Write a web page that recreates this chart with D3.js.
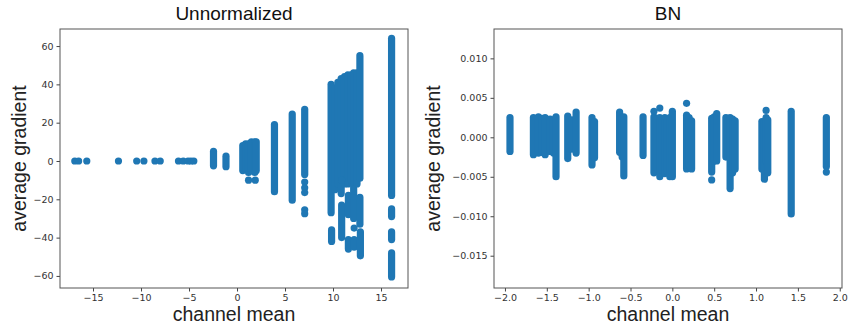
<!DOCTYPE html>
<html><head><meta charset="utf-8">
<script src="https://cdn.jsdelivr.net/npm/d3@7"></script>
<style>body{margin:0;background:#fff}svg{display:block}</style>
</head><body><svg id="c" width="849" height="328"></svg>
<script>
// ---- Data: Unnormalized panel ----
// vertical runs of densely packed points: [channel mean, lowest gradient, highest gradient]
const unnormRuns = [
  [-2.45, -2.5, 5.0], [-1.15, -3.0, 2.5],
  [0.6, -5, 8], [0.9, -4, 9], [1.2, -6, 9], [1.5, -5, 10], [1.85, -6, 10], [2.0, -5, 10],
  [3.9, -16, 19], [5.75, -20.5, 24.5], [7.05, -7, 27],
  [9.8, -27, 40], [9.85, -42, -36], [10.2, -15, 38], [10.5, -12, 41],
  [10.85, -17, 43], [10.9, -40, -23], [11.2, -12, 44],
  [11.55, -12, 45], [11.6, -28, -18], [11.6, -46, -41], [11.9, -10, 45],
  [12.15, -30, 46], [12.2, -45, -41], [12.5, -12, 46],
  [12.8, -9, 55], [12.8, -33, -19], [12.85, -49.5, -37],
  [16.1, -18, 64], [16.1, -29, -25], [16.1, -41, -37], [16.1, -60.5, -48]
];
// isolated points: [channel mean, average gradient]
const unnormPoints = [
  [-16.9, 0], [-16.5, 0], [-15.65, 0], [-12.35, 0], [-10.45, 0], [-9.7, 0],
  [-8.55, 0], [-8.0, 0], [-6.1, 0], [-5.6, 0], [-5.1, 0], [-4.8, 0], [-4.5, 0],
  [1.2, -10], [1.9, -10],
  [7.05, -11], [7.05, -14], [7.05, -16.5], [7.05, -25.5], [7.05, -27.5],
  [10.9, -10], [12.2, -35]
];
const unnormXTicks = [-15, -10, -5, 0, 5, 10, 15];
const unnormYTicks = [-60, -40, -20, 0, 20, 40, 60];

// ---- Data: BN panel ----
const bnRuns = [
  [-1.94, -0.0018, 0.0025],
  [-1.66, -0.0022, 0.0025], [-1.60, -0.0020, 0.0026], [-1.56, -0.0019, 0.0024], [-1.52, -0.0022, 0.0025],
  [-1.46, -0.0018, 0.0023], [-1.42, -0.0020, 0.0022],
  [-1.39, -0.0050, 0.0026],
  [-1.25, -0.0027, 0.0027], [-1.20, -0.0015, 0.0022], [-1.15, -0.0020, 0.0032],
  [-0.96, -0.0035, 0.0025], [-0.93, -0.0026, 0.0020],
  [-0.63, -0.0019, 0.0032], [-0.60, -0.0025, 0.0025], [-0.58, -0.0049, 0.0026],
  [-0.35, -0.0023, 0.0026],
  [-0.22, -0.0045, 0.0026], [-0.18, -0.0040, 0.0024], [-0.15, -0.0050, 0.0025], [-0.12, -0.0042, 0.0022],
  [-0.09, -0.0046, 0.0025], [-0.06, -0.0044, 0.0022],
  [-0.03, -0.0050, 0.0025], [0.00, -0.0050, 0.0033],
  [0.17, -0.0040, 0.0028], [0.20, -0.0036, 0.0025], [0.23, -0.0040, 0.0021],
  [0.47, -0.0044, 0.0024], [0.50, -0.0030, 0.0026], [0.53, -0.0030, 0.0030],
  [0.64, -0.0025, 0.0025], [0.69, -0.0065, 0.0025], [0.72, -0.0045, 0.0023], [0.75, -0.0040, 0.0021],
  [1.07, -0.0040, 0.0020], [1.10, -0.0053, 0.0020], [1.12, -0.0030, 0.0025], [1.14, -0.0045, 0.0022],
  [1.42, -0.0097, 0.0033],
  [1.84, -0.0037, 0.0025]
];
const bnPoints = [
  [-0.22, 0.0033], [-0.15, 0.0037], [0.17, 0.0043], [0.47, -0.0054],
  [1.12, 0.0034], [1.84, -0.0044]
];
const bnXTicks = [-2.0, -1.5, -1.0, -0.5, 0.0, 0.5, 1.0, 1.5, 2.0];
const bnYTicks = [-0.015, -0.010, -0.005, 0.000, 0.005, 0.010];

const color = "#1f77b4";
const R = 3.6;
const svg = d3.select("#c");

function panel(cfg) {
  const x = d3.scaleLinear().domain(cfg.xDomain).range([cfg.left, cfg.right]);
  const y = d3.scaleLinear().domain(cfg.yDomain).range([cfg.bottom, cfg.top]);
  const g = svg.append("g");

  g.append("g").selectAll("line").data(cfg.runs).join("line")
    .attr("x1", d => x(d[0])).attr("x2", d => x(d[0]))
    .attr("y1", d => y(d[1])).attr("y2", d => y(d[2]))
    .attr("stroke", color).attr("stroke-width", 2 * R).attr("stroke-linecap", "round");
  g.append("g").selectAll("circle").data(cfg.points).join("circle")
    .attr("cx", d => x(d[0])).attr("cy", d => y(d[1])).attr("r", R).attr("fill", color);

  const xa = g.append("g").attr("transform", `translate(0,${cfg.bottom})`)
    .call(d3.axisBottom(x).tickValues(cfg.xTicks).tickSize(3.5).tickPadding(3).tickFormat(cfg.xFmt));
  const ya = g.append("g").attr("transform", `translate(${cfg.left},0)`)
    .call(d3.axisLeft(y).tickValues(cfg.yTicks).tickSize(3.5).tickPadding(3).tickFormat(cfg.yFmt));
  [xa, ya].forEach(a => {
    a.select(".domain").remove();
    a.selectAll("line").attr("stroke", "#444");
    a.selectAll("text").attr("fill", "#333").style("font-family", "DejaVu Sans").style("font-size", "9.5px");
  });
  g.append("rect").attr("x", cfg.left).attr("y", cfg.top)
    .attr("width", cfg.right - cfg.left).attr("height", cfg.bottom - cfg.top)
    .attr("fill", "none").attr("stroke", "#555").attr("stroke-width", 1);

  const cx = (cfg.left + cfg.right) / 2;
  g.append("text").attr("x", cx).attr("y", 19.5).attr("text-anchor", "middle")
    .style("font-family", "Liberation Sans, Arial").style("font-size", "19px").attr("fill", "#111").text(cfg.title);
  g.append("text").attr("x", cx).attr("y", 321).attr("text-anchor", "middle")
    .style("font-family", "Liberation Sans, Arial").style("font-size", "19.5px").attr("fill", "#222").text("channel mean");
  g.append("text").attr("transform", `translate(${cfg.ylabelX},${(cfg.top + cfg.bottom) / 2}) rotate(-90)`)
    .attr("text-anchor", "middle")
    .style("font-family", "Liberation Sans, Arial").style("font-size", "19.5px").attr("fill", "#222").text("average gradient");
}

const minus = s => s.replace("-", "\u2212");
panel({
  left: 60, right: 408, top: 29, bottom: 288,
  xDomain: [-18.44, 17.81], yDomain: [-66.3, 68.9],
  runs: unnormRuns, points: unnormPoints, xTicks: unnormXTicks, yTicks: unnormYTicks,
  xFmt: d => minus(d3.format("d")(d)), yFmt: d => minus(d3.format("d")(d)),
  title: "Unnormalized", ylabelX: 26
});
panel({
  left: 494, right: 842, top: 29, bottom: 288,
  xDomain: [-2.131, 2.027], yDomain: [-0.01909, 0.01372],
  runs: bnRuns, points: bnPoints, xTicks: bnXTicks, yTicks: bnYTicks,
  xFmt: d => minus(d3.format(".1f")(d)), yFmt: d => minus(d3.format(".3f")(d)),
  title: "BN", ylabelX: 440
});
</script></body></html>
